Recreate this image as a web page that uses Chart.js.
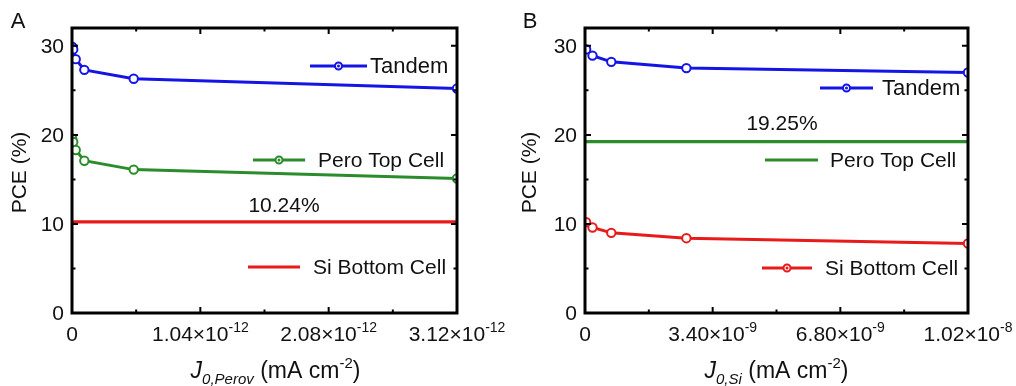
<!DOCTYPE html>
<html>
<head>
<meta charset="utf-8">
<script src="https://cdn.jsdelivr.net/npm/chart.js@4.4.1/dist/chart.umd.min.js"></script>
<style>
html,body{margin:0;padding:0;background:#fff;}
#wrap{position:relative;width:1016px;height:386px;overflow:hidden;}
canvas{position:absolute;top:0;}
#cA{left:0;}
#cB{left:508px;}
</style>
</head>
<body>
<div id="wrap">
<canvas id="cA" width="508" height="386"></canvas>
<canvas id="cB" width="508" height="386"></canvas>
</div>
<script>
// ---------- DATA ----------
// Panel A: x = J0,Perov (mA cm-2)
const xA = [1e-15, 1e-14, 3e-14, 1e-13, 5e-13, 3.12e-12];
const tandemA = [29.9, 29.6, 28.5, 27.3, 26.3, 25.2];
const peroA = [19.6, 19.2, 18.3, 17.1, 16.1, 15.1];
const siA = 10.24;
const xTicksA = [0, 1.04e-12, 2.08e-12, 3.12e-12];
const xTickMantA = ['0', '1.04×10', '2.08×10', '3.12×10'];
const xTickExpA = ['', '-12', '-12', '-12'];
const xMaxA = 3.12e-12;

// Panel B: x = J0,Si (mA cm-2)
const xB = [3e-11, 2e-10, 7e-10, 2.7e-9, 1.02e-8];
const tandemB = [29.6, 28.9, 28.2, 27.5, 27.0];
const siB = [10.2, 9.6, 9.0, 8.4, 7.8];
const peroB = 19.25;
const xTicksB = [0, 3.40e-9, 6.80e-9, 1.02e-8];
const xTickMantB = ['0', '3.40×10', '6.80×10', '1.02×10'];
const xTickExpB = ['', '-9', '-9', '-8'];
const xMaxB = 1.02e-8;

const yTicks = [0, 10, 20, 30];
const yTickLabels = ['0', '10', '20', '30'];
const yMinor = [5, 15, 25];
const yMax = 32;

const BLUE = '#1414e6';
const GREEN = '#2a8c2a';
const RED = '#e81a1a';
const FONT = '"Liberation Sans", Arial, Helvetica, sans-serif';

function pts(xs, ys) { return xs.map((x, i) => ({x: x, y: ys[i]})); }
function flat(xmax, v) { return [{x: 0, y: v}, {x: xmax, y: v}]; }

function markerSet(color) {
  return {borderColor: color, backgroundColor: '#ffffff', pointBorderColor: color,
    pointBackgroundColor: '#ffffff', pointRadius: 4.2, pointBorderWidth: 2,
    borderWidth: 3, tension: 0, fill: false};
}
function flatSet(color) {
  return {borderColor: color, backgroundColor: color, pointRadius: 0,
    borderWidth: 3.2, tension: 0, fill: false};
}

function drawSci(ctx, mant, exp, x, y) {
  ctx.font = '21px ' + FONT;
  const w1 = ctx.measureText(mant).width;
  ctx.font = '14px ' + FONT;
  const w2 = exp ? ctx.measureText(exp).width : 0;
  const start = x - (w1 + w2) / 2;
  ctx.textAlign = 'left';
  ctx.textBaseline = 'alphabetic';
  ctx.font = '21px ' + FONT;
  ctx.fillText(mant, start, y);
  if (exp) {
    ctx.font = '14px ' + FONT;
    ctx.fillText(exp, start + w1, y - 9);
  }
}

function legendItem(ctx, x1, x2, y, color, marker, text, tx, fs) {
  ctx.save();
  ctx.strokeStyle = color;
  ctx.lineWidth = 3;
  ctx.beginPath(); ctx.moveTo(x1, y); ctx.lineTo(x2, y); ctx.stroke();
  if (marker) {
    ctx.fillStyle = '#ffffff';
    ctx.lineWidth = 2;
    ctx.beginPath(); ctx.arc((x1 + x2) / 2, y, 3.5, 0, Math.PI * 2); ctx.fill(); ctx.stroke();
    ctx.fillStyle = color;
    ctx.beginPath(); ctx.arc((x1 + x2) / 2, y, 1.5, 0, Math.PI * 2); ctx.fill();
  }
  ctx.fillStyle = '#111';
  ctx.font = (fs || 21) + 'px ' + FONT;
  ctx.textAlign = 'left';
  ctx.textBaseline = 'middle';
  ctx.fillText(text, tx, y + 1);
  ctx.restore();
}

function makeDeco(cfg) {
  return {
    id: 'deco' + cfg.letter,
    afterDraw(chart) {
      const ctx = chart.ctx;
      const a = chart.chartArea;
      const xs = chart.scales.x, ys = chart.scales.y;
      ctx.save();
      // frame
      ctx.strokeStyle = '#000';
      ctx.lineWidth = 3;
      ctx.strokeRect(a.left, a.top, a.right - a.left, a.bottom - a.top);
      ctx.lineWidth = 2;
      // x ticks (major + minor), inward on bottom and top
      const step = cfg.xTicks[1];
      for (let i = 0; i < cfg.xTicks.length; i++) {
        const px = xs.getPixelForValue(cfg.xTicks[i]);
        ctx.beginPath();
        ctx.moveTo(px, a.bottom); ctx.lineTo(px, a.bottom - 6);
        ctx.moveTo(px, a.top); ctx.lineTo(px, a.top + 6);
        ctx.stroke();
        if (i < cfg.xTicks.length - 1) {
          const pm = xs.getPixelForValue(cfg.xTicks[i] + step / 2);
          ctx.beginPath();
          ctx.moveTo(pm, a.bottom); ctx.lineTo(pm, a.bottom - 3.5);
          ctx.moveTo(pm, a.top); ctx.lineTo(pm, a.top + 3.5);
          ctx.stroke();
        }
      }
      // y ticks
      yTicks.forEach(v => {
        const py = ys.getPixelForValue(v);
        ctx.beginPath();
        ctx.moveTo(a.left, py); ctx.lineTo(a.left + 6, py);
        ctx.moveTo(a.right, py); ctx.lineTo(a.right - 6, py);
        ctx.stroke();
      });
      yMinor.forEach(v => {
        const py = ys.getPixelForValue(v);
        ctx.beginPath();
        ctx.moveTo(a.left, py); ctx.lineTo(a.left + 3.5, py);
        ctx.moveTo(a.right, py); ctx.lineTo(a.right - 3.5, py);
        ctx.stroke();
      });
      // y tick labels
      ctx.fillStyle = '#111';
      ctx.font = '21px ' + FONT;
      ctx.textAlign = 'right';
      ctx.textBaseline = 'middle';
      yTicks.forEach((v, i) => {
        ctx.fillText(yTickLabels[i], a.left - 8, ys.getPixelForValue(v) + 1);
      });
      // x tick labels
      cfg.xTicks.forEach((v, i) => {
        drawSci(ctx, cfg.xMant[i], cfg.xExp[i], xs.getPixelForValue(v), a.bottom + 28);
      });
      // y title
      ctx.save();
      ctx.translate(cfg.yTitleX, (a.top + a.bottom) / 2 + 2);
      ctx.rotate(-Math.PI / 2);
      ctx.textAlign = 'center';
      ctx.textBaseline = 'middle';
      ctx.font = '21px ' + FONT;
      ctx.fillText('PCE (%)', 0, 0);
      ctx.restore();
      // x title: J_{sub} (mA cm^{-2})
      const parts = [
        {t: 'J', f: 'italic 23px ' + FONT, dy: 0},
        {t: cfg.sub, f: 'italic 15px ' + FONT, dy: 6},
        {t: ' (mA cm', f: '23px ' + FONT, dy: 0},
        {t: '-2', f: '15px ' + FONT, dy: -10},
        {t: ')', f: '23px ' + FONT, dy: 0}
      ];
      let tw = 0;
      parts.forEach(p => { ctx.font = p.f; p.w = ctx.measureText(p.t).width; tw += p.w; });
      let cx = (a.left + a.right) / 2 + cfg.xTitleShift - tw / 2;
      ctx.textAlign = 'left';
      ctx.textBaseline = 'alphabetic';
      parts.forEach(p => { ctx.font = p.f; ctx.fillText(p.t, cx, 378 + p.dy); cx += p.w; });
      // panel letter
      ctx.font = '22px ' + FONT;
      ctx.textAlign = 'center';
      ctx.textBaseline = 'middle';
      ctx.fillText(cfg.letter, cfg.letterX, 22);
      // annotation
      ctx.font = '21px ' + FONT;
      ctx.fillText(cfg.note, cfg.noteX, cfg.noteY);
      // legends
      cfg.legend.forEach(l => legendItem(ctx, l.x1, l.x2, l.y, l.c, l.m, l.t, l.tx, l.fs));
      ctx.restore();
    }
  };
}

function makeChart(id, datasets, xMax, padLeftW, padRight, deco) {
  return new Chart(document.getElementById(id), {
    type: 'line',
    data: {datasets: datasets},
    options: {
      responsive: false,
      animation: false,
      layout: {padding: {left: 0, right: padRight, top: 28, bottom: 0}},
      plugins: {legend: {display: false}, tooltip: {enabled: false}},
      scales: {
        x: {type: 'linear', min: 0, max: xMax,
            ticks: {display: false}, grid: {display: false}, border: {display: false},
            afterFit(s) { s.height = 73; }},
        y: {type: 'linear', min: 0, max: yMax,
            ticks: {display: false}, grid: {display: false}, border: {display: false},
            afterFit(s) { s.width = padLeftW; }}
      }
    },
    plugins: [deco]
  });
}

makeChart('cA', [
  Object.assign({label: 'Tandem', data: pts(xA, tandemA)}, markerSet(BLUE)),
  Object.assign({label: 'Pero Top Cell', data: pts(xA, peroA)}, markerSet(GREEN)),
  Object.assign({label: 'Si Bottom Cell', data: flat(xMaxA, siA)}, flatSet(RED))
], xMaxA, 72, 51, makeDeco({
  letter: 'A', letterX: 18, yTitleX: 20, sub: '0,Perov', xTitleShift: 11,
  xTicks: xTicksA, xMant: xTickMantA, xExp: xTickExpA,
  note: '10.24%', noteX: 284, noteY: 206,
  legend: [
    {x1: 310, x2: 367, y: 66, c: BLUE, m: true, t: 'Tandem', tx: 370, fs: 22},
    {x1: 253, x2: 305, y: 160, c: GREEN, m: true, t: 'Pero Top Cell', tx: 318},
    {x1: 248, x2: 300, y: 267, c: RED, m: false, t: 'Si Bottom Cell', tx: 313}
  ]
}));

makeChart('cB', [
  Object.assign({label: 'Tandem', data: pts(xB, tandemB)}, markerSet(BLUE)),
  Object.assign({label: 'Pero Top Cell', data: flat(xMaxB, peroB)}, flatSet(GREEN)),
  Object.assign({label: 'Si Bottom Cell', data: pts(xB, siB)}, markerSet(RED))
], xMaxB, 77, 48, makeDeco({
  letter: 'B', letterX: 22, yTitleX: 22, sub: '0,Si', xTitleShift: 0,
  xTicks: xTicksB, xMant: xTickMantB, xExp: xTickExpB,
  note: '19.25%', noteX: 274, noteY: 124,
  legend: [
    {x1: 312, x2: 365, y: 88, c: BLUE, m: true, t: 'Tandem', tx: 374, fs: 22},
    {x1: 257, x2: 310, y: 160, c: GREEN, m: false, t: 'Pero Top Cell', tx: 322},
    {x1: 254, x2: 304, y: 268, c: RED, m: true, t: 'Si Bottom Cell', tx: 317}
  ]
}));
</script>
</body>
</html>
